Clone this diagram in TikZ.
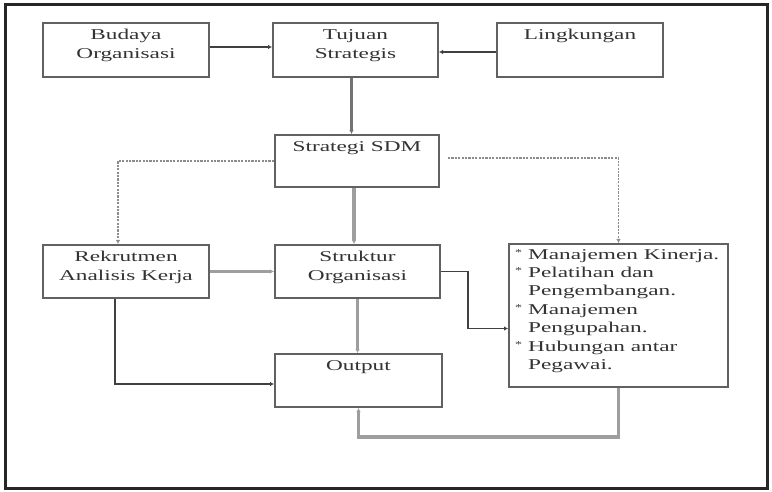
\documentclass[tikz,border=0pt]{standalone}
\usepackage{fontspec}
\setmainfont[FakeStretch=1.55]{Liberation Serif}
\usetikzlibrary{arrows.meta}
\newcommand{\bulmark}{\makebox[13pt][l]{\raisebox{0.55ex}{\fontsize{9}{9}\selectfont *}}}
\tikzset{
  boxnode/.style={draw=black!62, line width=2pt, inner sep=0pt, fill=white},
  lbl/.style={anchor=north, yshift=-7pt, inner sep=0pt, align=center, text=black!80,
    font=\fontsize{15}{19}\selectfont},
  listlbl/.style={anchor=north west, xshift=7pt, yshift=-6pt, inner sep=0pt, align=left,
    text=black!80, font=\fontsize{15}{18.4}\selectfont},
  tip/.style={-{Latex[length=4pt,width=4.5pt]}},
  thinline/.style={tip, draw=black!75, line width=1.3pt},
  midline/.style={tip, draw=black!55, line width=2.2pt},
  thickline/.style={tip, draw=black!38, line width=3.3pt},
  dashline/.style={tip, draw=black!45, line width=1.7pt, dash pattern=on 2.2pt off 1.2pt},
}
\begin{document}
\begin{tikzpicture}[x=1pt, y=-1pt]
  \useasboundingbox (0,0) rectangle (772,492);
  % outer frame
  \draw[black!85, line width=3pt] (5,5) rectangle (767,488);

  % boxes
  \node[boxnode, minimum width=166pt, minimum height=54pt,
        label={[lbl]north:Budaya\\Organisasi}] (bud) at (126,50) {};
  \node[boxnode, minimum width=165pt, minimum height=54pt,
        label={[lbl]north:Tujuan\\Strategis}] (tuj) at (355.5,50) {};
  \node[boxnode, minimum width=166pt, minimum height=54pt,
        label={[lbl]north:Lingkungan}] (lin) at (580,50) {};
  \node[boxnode, minimum width=164pt, minimum height=52pt,
        label={[lbl]north:Strategi SDM}] (sdm) at (357,161) {};
  \node[boxnode, minimum width=166pt, minimum height=53pt,
        label={[lbl]north:Rekrutmen\\Analisis Kerja}] (rek) at (126,271.5) {};
  \node[boxnode, minimum width=165pt, minimum height=53pt,
        label={[lbl]north:Struktur\\Organisasi}] (str) at (357.5,271.5) {};
  \node[boxnode, minimum width=167pt, minimum height=53pt,
        label={[lbl]north:Output}] (out) at (358.5,380.5) {};
  \node[boxnode, minimum width=219pt, minimum height=143pt,
        label={[listlbl]north west:\bulmark Manajemen Kinerja.\\
          \bulmark Pelatihan dan\\
          \hspace*{13pt}Pengembangan.\\
          \bulmark Manajemen\\
          \hspace*{13pt}Pengupahan.\\
          \bulmark Hubungan antar\\
          \hspace*{13pt}Pegawai.}] (mgt) at (618.5,315.5) {};

  % connectors
  \draw[thinline] ([yshift=3pt]bud.east) -- ([yshift=3pt]tuj.west);
  \draw[thinline] ([yshift=-2pt]lin.west) -- ([yshift=-2pt]tuj.east);
  \draw[midline] ([xshift=-4pt]tuj.south) -- ([xshift=-4pt]tuj.south |- sdm.north);
  \draw[dashline] (sdm.west) -| ([xshift=-8pt]rek.north);
  \draw[dashline] ([xshift=8pt,yshift=3pt]sdm.east) -| (mgt.north);
  \draw[thickline] ([xshift=-3pt]sdm.south) -- ([xshift=-3pt]sdm.south |- str.north);
  \draw[thickline] (rek.east) -- (str.west);
  \draw[thickline] (str.south) -- (str.south |- out.north);
  \draw[thinline] ([xshift=-11pt]rek.south) |- ([yshift=-3.5pt]out.west);
  \draw[thinline] (str.east) -| ([xshift=-40pt,yshift=-13pt]mgt.west)
                   -- ([yshift=-13pt]mgt.west);
  \draw[thickline] (mgt.south) -- ++(0,49) -| (out.south);
\end{tikzpicture}
\end{document}
